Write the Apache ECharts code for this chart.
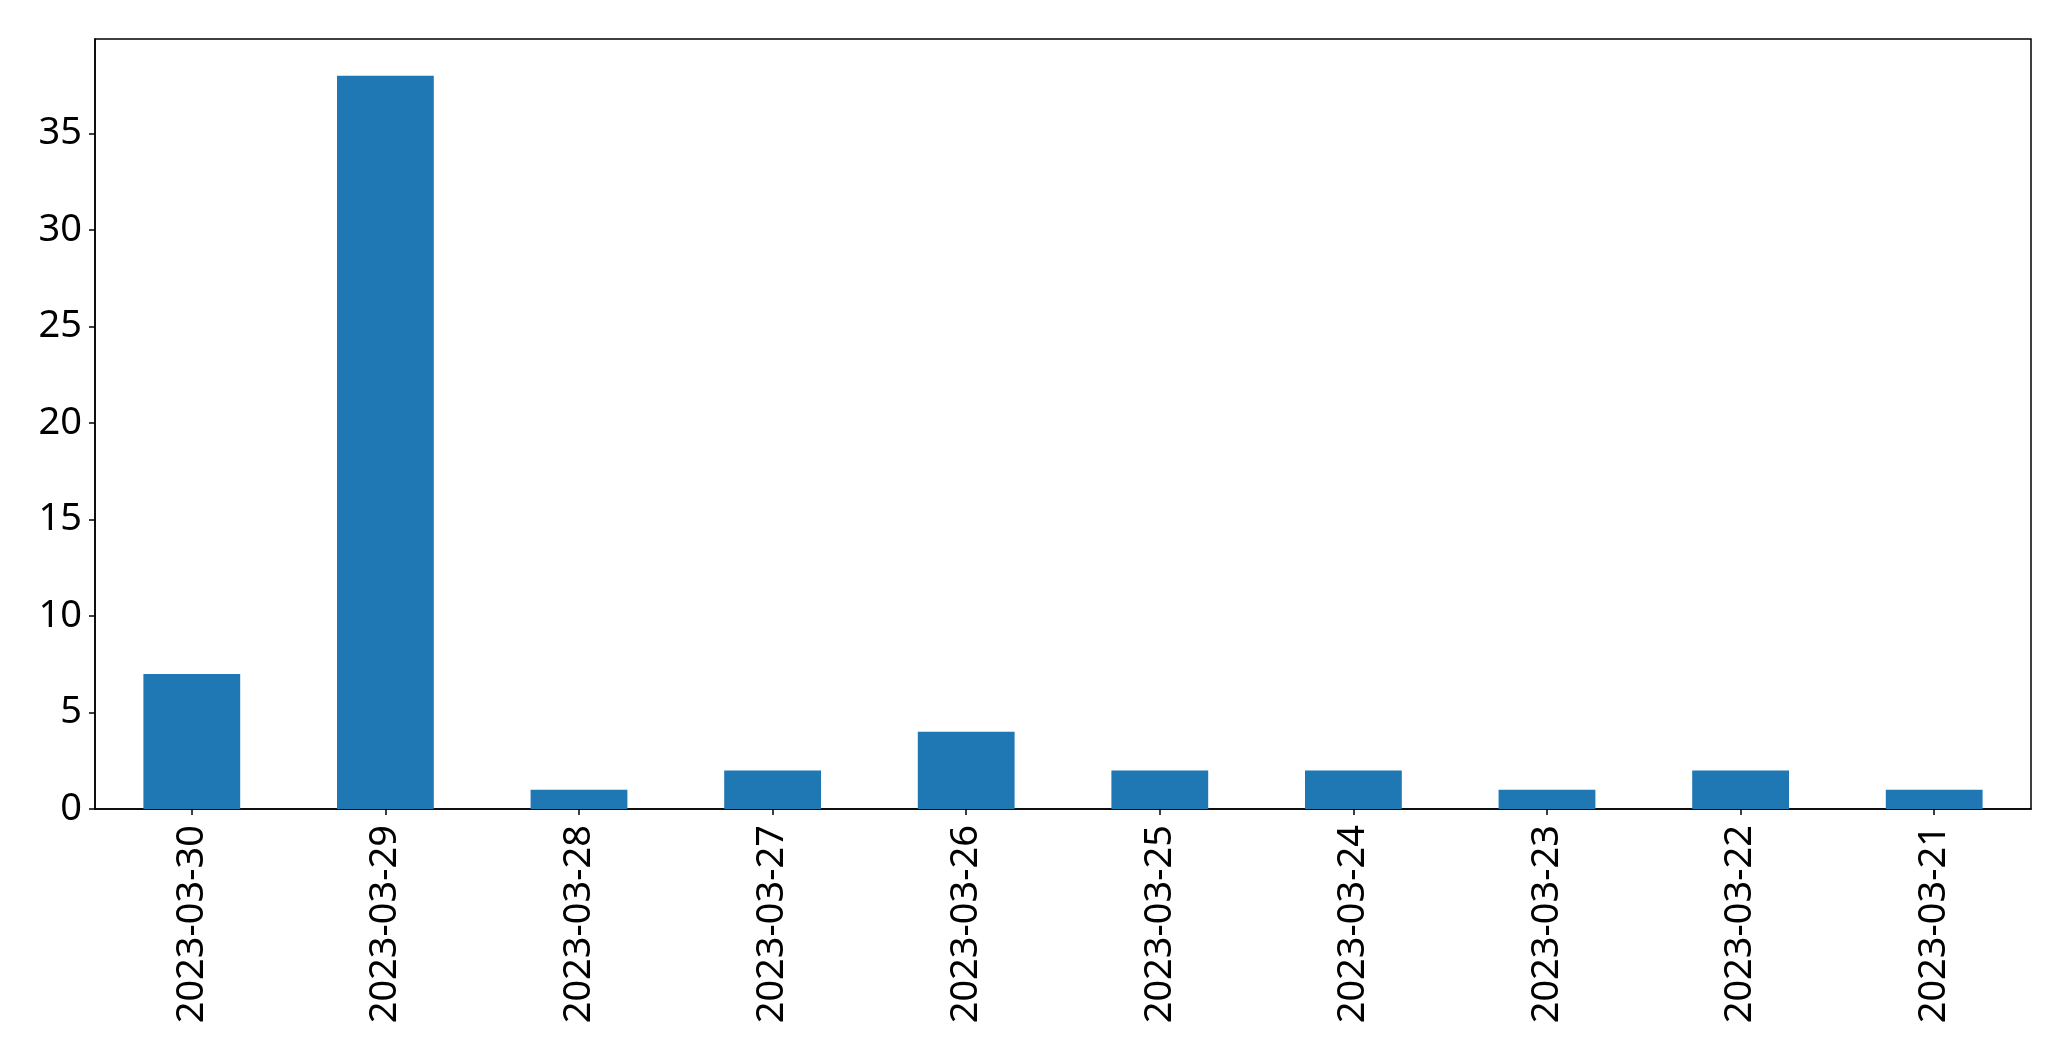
<!DOCTYPE html>
<html>
<head>
<meta charset="utf-8">
<script src="https://cdn.jsdelivr.net/npm/echarts@6/dist/echarts.min.js"></script>
<style>
html,body{margin:0;padding:0;background:#fff;}
#chart{width:2071px;height:1061px;}
</style>
</head>
<body>
<div id="chart"></div>
<script>
const categories = ['2023-03-30','2023-03-29','2023-03-28','2023-03-27','2023-03-26','2023-03-25','2023-03-24','2023-03-23','2023-03-22','2023-03-21'];
const values = [7, 38, 1, 2, 4, 2, 2, 1, 2, 1];
const yTicks = [0, 5, 10, 15, 20, 25, 30, 35];

const chart = echarts.init(document.getElementById('chart'), null, {renderer: 'canvas'});
const font = 'Noto Sans';
chart.setOption({
  animation: false,
  backgroundColor: '#ffffff',
  grid: {
    left: 95, right: 40, top: 39, bottom: 252,
    show: true, borderColor: '#000', borderWidth: 1.5, backgroundColor: 'transparent'
  },
  xAxis: {
    type: 'category',
    data: categories,
    boundaryGap: true,
    axisLine: {show: true, lineStyle: {color: '#000', width: 1.5}},
    axisTick: {show: true, alignWithLabel: true, length: 6, lineStyle: {color: '#000', width: 1.5}},
    axisLabel: {rotate: 90, margin: 16, color: '#000', fontFamily: font, fontSize: 38, interval: 0},
    splitLine: {show: false}
  },
  yAxis: {
    type: 'value',
    min: 0,
    max: 39.9,
    interval: 5,
    axisLine: {show: true, lineStyle: {color: '#000', width: 1.5}},
    axisTick: {show: true, length: 6, lineStyle: {color: '#000', width: 1.5}, customValues: yTicks},
    axisLabel: {color: '#000', fontFamily: font, fontSize: 38, margin: 13, customValues: yTicks},
    splitLine: {show: false}
  },
  series: [{
    type: 'bar',
    data: values,
    barWidth: '50%',
    itemStyle: {color: '#1f77b4'}
  }]
});
</script>
</body>
</html>
